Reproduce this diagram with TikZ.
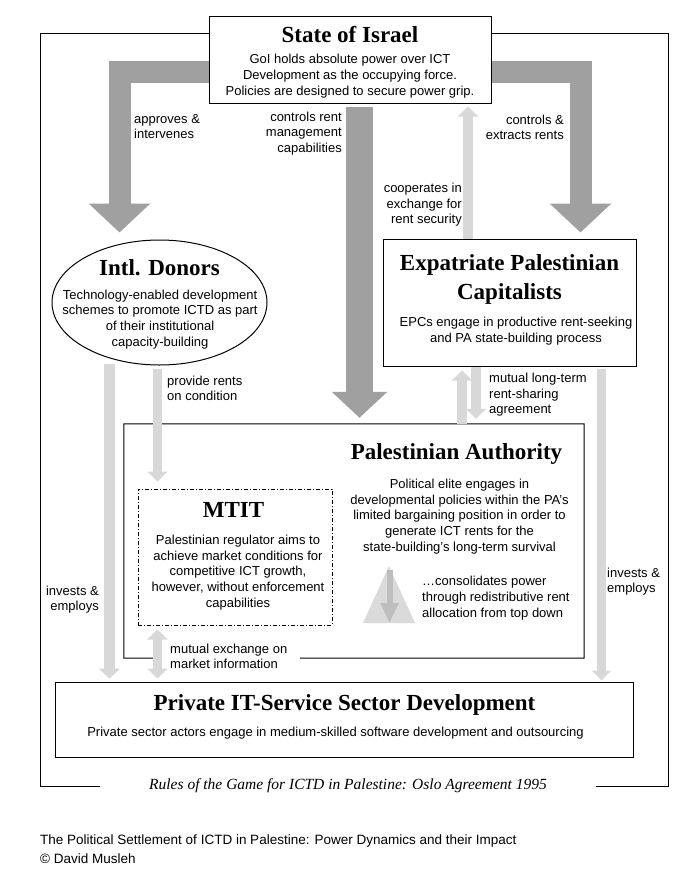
\documentclass[tikz,border=0pt]{standalone}
\usepackage{fontspec}
\setmainfont{Liberation Sans}
\newfontfamily\titlefont{Liberation Serif}
\usetikzlibrary{arrows.meta,shapes.geometric,calc}
\definecolor{darkarrow}{RGB}{160,160,160}
\definecolor{lightarrow}{RGB}{216,216,216}
\definecolor{trifill}{RGB}{218,218,218}
\definecolor{triarrow}{RGB}{190,190,190}
\begin{document}
\begin{tikzpicture}[x=1pt,y=-1pt,
  box/.style={draw=black,line width=1pt,fill=white,inner sep=0pt},
  boxline/.style={draw=black,line width=1pt},
  ttl/.style={font=\titlefont\bfseries\fontsize{23}{29}\selectfont,inner sep=0pt,align=center},
  txt/.style={font=\fontsize{13}{15.8}\selectfont,inner sep=0pt,align=center},
  lbl/.style={font=\fontsize{13}{15.5}\selectfont,inner sep=0pt},
  bigarr/.style={draw=darkarrow,line width=22pt,-{Triangle[width=60pt,length=29pt]}},
  smallarr/.style={draw=lightarrow,line width=10pt,-{Triangle[width=20pt,length=10pt]}},
]
\useasboundingbox (0,0) rectangle (700,889);

% outer frame (Rules of the Game)
\draw[boxline] (209,33.5) -- (40,33.5) -- (40,786) -- (100,786);
\draw[boxline] (491,33.5) -- (668,33.5) -- (668,786) -- (596,786);

% actor boxes
\node[box, minimum width=282, minimum height=87] (state) at (350,59.5) {};
\node[box, ellipse, minimum width=215, minimum height=125] (donors) at (159.5,302.5) {};
\node[box, minimum width=253, minimum height=127] (epc) at (509.5,302.5) {};
\node[inner sep=0pt, minimum width=460, minimum height=234] (pa) at (354,541) {};
\draw[boxline] (300,658) -- (pa.south east) -- (pa.north east) -- (pa.north west) -- (pa.south west) -- (155,658);
\node[box, dash pattern=on 4pt off 2pt on 1pt off 2pt, minimum width=194, minimum height=136] (mtit) at (235,557) {};
\node[box, minimum width=578, minimum height=75] (psd) at (344,719.5) {};

% helper x positions
\coordinate (bandY) at (0,71.5);
\coordinate (lx) at (119.5,0);
\coordinate (rx) at (580.5,0);
\coordinate (cx) at (359.5,0);
\coordinate (a1) at (468,0);
\coordinate (a2) at (462,0);
\coordinate (a3) at (476,0);
\coordinate (a4) at (157.5,0);
\coordinate (a5) at (109.5,0);
\coordinate (a6) at (601.5,0);

% big dark arrows from the State of Israel
\draw[bigarr] (state.west |- bandY) -| ($(donors.north -| lx)+(0,-7)$);
\draw[bigarr] (state.east |- bandY) -| ($(epc.north -| rx)+(0,-6)$);
\draw[bigarr, line width=27pt, -{Triangle[width=54pt,length=26pt]}] ($(state.south -| cx)+(0,3)$) -- ($(pa.north -| cx)+(0,-6)$);

% light arrows
\draw[smallarr] (epc.north -| a1) -- ($(state.south -| a1)+(0,3)$);
\draw[smallarr] (pa.north -| a2) -- ($(epc.south -| a2)+(0,4)$);
\draw[smallarr] (epc.south -| a3) -- ($(pa.north -| a3)+(0,-5)$);
\draw[smallarr, line width=9pt] ($(donors.south -| a4)+(0,3)$) -- ($(mtit.north -| a4)+(0,-7)$);
\draw[smallarr, line width=11pt, -{Triangle[width=21pt,length=10pt]}] ($(donors.south -| a5)+(0,-2)$) -- ($(psd.north -| a5)+(0,-3)$);
\draw[smallarr, line width=9pt, {Triangle[width=20pt,length=10pt]}-{Triangle[width=20pt,length=10pt]}] ($(mtit.south -| a4)+(0,4)$) -- ($(psd.north -| a4)+(0,-3)$);
\draw[smallarr, line width=9pt, -{Triangle[width=19pt,length=10pt]}] ($(epc.south -| a6)+(0,2)$) -- ($(psd.north -| a6)+(0,-1)$);

% top-down triangle in PA
\fill[trifill] (363,623) -- (415,623) -- (389,566) -- cycle;
\draw[triarrow, line width=6pt, -{Triangle[width=17pt,length=20pt]}] (389.5,570) -- (389.5,623);

% titles
\node[ttl, anchor=base] (statettl) at (350,42.6) {State of Israel};
\node[ttl, anchor=base] (donorsttl) at (159.5,275.6) {Intl. Donors};
\node[ttl] (epcttl) at (509.5,279.5) {Expatriate Palestinian\\Capitalists};
\node[ttl, anchor=base] (pattl) at (456.5,459.6) {Palestinian Authority};
\node[ttl, anchor=base] (mtitttl) at (233.5,517.6) {MTIT};
\node[ttl, anchor=base] (psdttl) at (344.5,710.6) {Private IT-Service Sector Development};

% descriptions
\node[txt] (statetxt) at (350,76) {GoI holds absolute power over ICT\\Development as the occupying force.\\Policies are designed to secure power grip.};
\node[txt] (donorstxt) at (160,319.5) {Technology-enabled development\\schemes to promote ICTD as part\\of their institutional\\capacity-building};
\node[txt] (epctxt) at (516,331.5) {EPCs engage in productive rent-seeking\\and PA state-building process};
\node[txt] (patxt) at (459.5,516.5) {Political elite engages in\\developmental policies within the PA's\\limited bargaining position in order to\\generate ICT rents for the\\state-building's long-term survival};
\node[txt] (mtittxt) at (238,572.5) {Palestinian regulator aims to\\achieve market conditions for\\competitive ICT growth,\\however, without enforcement\\capabilities};
\node[txt, align=left, anchor=west] (consol) at (422,598) {…consolidates power\\through redistributive rent\\allocation from top down};
\node[txt] (psdtxt) at (335.5,733) {Private sector actors engage in medium-skilled software development and outsourcing};

% arrow labels
\node[lbl, align=left, anchor=west] (l1) at (134,126.5) {approves \&\\intervenes};
\node[lbl, align=right, anchor=east] (l2) at (564,127.5) {controls \&\\extracts rents};
\node[lbl, align=right, anchor=east] (l3) at (342,133.5) {controls rent\\management\\capabilities};
\node[lbl, align=right, anchor=east] (l4) at (462,205) {cooperates in\\exchange for\\rent security};
\node[lbl, align=left, anchor=west] (l5) at (167,388.5) {provide rents\\on condition};
\node[lbl, align=left, anchor=west] (l6) at (489,395) {mutual long-term\\rent-sharing\\agreement};
\node[lbl, align=right, anchor=east] (l7) at (99,599.5) {invests \&\\employs};
\node[lbl, align=left, anchor=west] (l8) at (607,581.5) {invests \&\\employs};
\node[lbl, align=left, anchor=west] (l9) at (170,656.5) {mutual exchange on\\market information};

% caption and footer
\node[font=\titlefont\itshape\fontsize{15.5}{18}\selectfont, inner sep=0pt, anchor=base] (rules) at (348,789) {Rules of the Game for ICTD in Palestine: Oslo Agreement 1995};
\node[font=\fontsize{13.5}{19}\selectfont, inner sep=0pt, anchor=base west] (foot1) at (40,844.5) {The Political Settlement of ICTD in Palestine: Power Dynamics and their Impact};
\node[font=\fontsize{13.5}{19}\selectfont, inner sep=0pt, anchor=base west] (foot2) at (40,863.5) {© David Musleh};
\end{tikzpicture}
\end{document}
